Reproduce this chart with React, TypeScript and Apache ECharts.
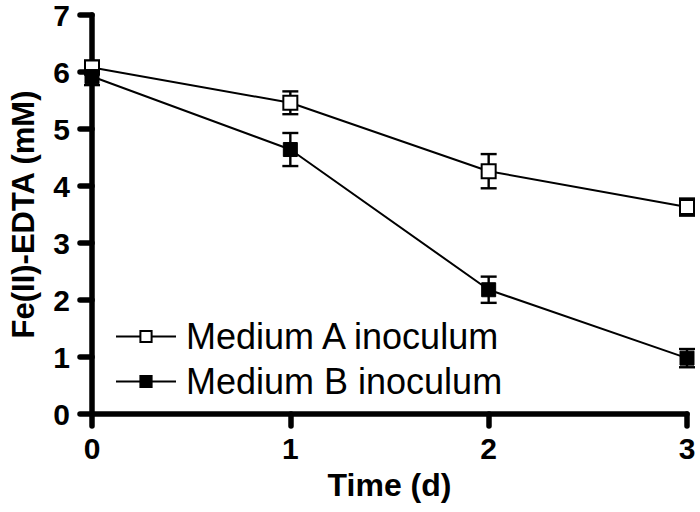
import React, { useEffect, useRef } from "react";
import * as echarts from "echarts";

const times = [0, 1, 2, 3];
const mediumA = [6.08, 5.46, 4.26, 3.63];
const mediumAErr = [0.12, 0.2, 0.3, 0.15];
const mediumB = [5.92, 4.64, 2.18, 0.98];
const mediumBErr = [0.15, 0.29, 0.23, 0.16];
const seriesNames = ["Medium A inoculum", "Medium B inoculum"];
const xTitle = "Time (d)";
const yTitle = "Fe(II)-EDTA (mM)";

const FONT = "Arial, 'Liberation Sans', Helvetica, sans-serif";

function errData(vals: number[], errs: number[]) {
  return times.map((t, i) => [t, vals[i] - errs[i], vals[i] + errs[i]]);
}

function renderErr(params: any, api: any) {
  const x = api.value(0);
  const lo = api.coord([x, api.value(1)]);
  const hi = api.coord([x, api.value(2)]);
  const half = 8;
  const style = { stroke: "#000", lineWidth: 2.4, fill: null };
  return {
    type: "group",
    children: [
      { type: "line", shape: { x1: lo[0], y1: lo[1], x2: hi[0], y2: hi[1] }, style },
      { type: "line", shape: { x1: lo[0] - half, y1: lo[1], x2: lo[0] + half, y2: lo[1] }, style },
      { type: "line", shape: { x1: hi[0] - half, y1: hi[1], x2: hi[0] + half, y2: hi[1] }, style },
    ],
  };
}

export default function App() {
  const ref = useRef<HTMLDivElement>(null);
  useEffect(() => {
    if (!ref.current) return;
    const chart = echarts.init(ref.current, null, { renderer: "svg" });
    const axisLine = { show: true, lineStyle: { color: "#000", width: 5.5, cap: "round" } };
    const axisTick = { show: true, inside: false, length: 12, lineStyle: { color: "#000", width: 5.5, cap: "round" } };
    const axisLabel = { color: "#000", fontSize: 30, lineHeight: 24, fontWeight: "bold", fontFamily: FONT };
    chart.setOption({
      animation: false,
      backgroundColor: "#fff",
      grid: { left: 85, right: 13, top: 14, bottom: 98, containLabel: false },
      legend: {
        orient: "vertical",
        left: 110,
        top: 313,
        itemWidth: 60,
        itemHeight: 14,
        itemGap: 8,
        data: [
          { name: seriesNames[0], itemStyle: { color: "#fff", borderColor: "#000", borderWidth: 2 } },
          { name: seriesNames[1] },
        ],
        textStyle: { color: "#000", fontSize: 36, fontFamily: FONT, lineHeight: 37, padding: [0, 0, 0, 5] },
      },
      xAxis: {
        type: "value",
        min: 0,
        max: 3,
        interval: 1,
        name: xTitle,
        nameLocation: "middle",
        nameGap: 55,
        nameTextStyle: { color: "#000", fontSize: 32, fontWeight: "bold", fontFamily: FONT },
        axisLine,
        axisTick,
        axisLabel: { ...axisLabel, margin: 22 },
        splitLine: { show: false },
      },
      yAxis: {
        type: "value",
        min: 0,
        max: 7,
        interval: 1,
        name: yTitle,
        nameLocation: "middle",
        nameGap: 53,
        nameTextStyle: { color: "#000", fontSize: 31, fontWeight: "bold", fontFamily: FONT },
        axisLine,
        axisTick,
        axisLabel: { ...axisLabel, margin: 22 },
        splitLine: { show: false },
      },
      series: [
        {
          type: "custom",
          name: "errA",
          renderItem: renderErr,
          data: errData(mediumA, mediumAErr),
          encode: { x: 0, y: [1, 2] },
          z: 1,
          silent: true,
        },
        {
          type: "custom",
          name: "errB",
          renderItem: renderErr,
          data: errData(mediumB, mediumBErr),
          encode: { x: 0, y: [1, 2] },
          z: 1,
          silent: true,
        },
        {
          type: "line",
          name: seriesNames[0],
          data: times.map((t, i) => [t, mediumA[i]]),
          symbol: "rect",
          symbolSize: 14,
          lineStyle: { color: "#000", width: 2 },
          itemStyle: { color: "#fff", borderColor: "#000", borderWidth: 2 },
          z: 2,
        },
        {
          type: "line",
          name: seriesNames[1],
          data: times.map((t, i) => [t, mediumB[i]]),
          symbol: "rect",
          symbolSize: 14,
          lineStyle: { color: "#000", width: 2 },
          itemStyle: { color: "#000", borderColor: "#000", borderWidth: 1 },
          z: 3,
        },
      ],
    });
    return () => chart.dispose();
  }, []);
  return <div ref={ref} style={{ width: 700, height: 512, position: "fixed", left: 0, top: 0 }} />;
}
